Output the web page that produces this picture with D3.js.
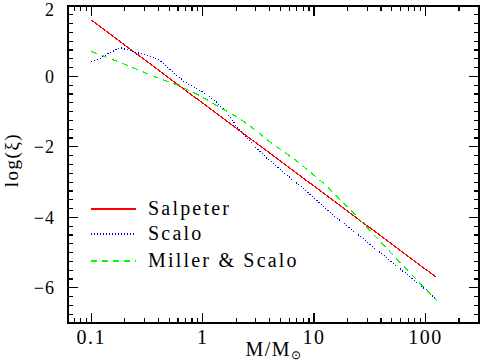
<!DOCTYPE html>
<html>
<head>
<meta charset="utf-8">
<script src="https://cdn.jsdelivr.net/npm/d3@7"></script>
<style>
  body { margin: 0; background: #fff; }
  svg { display: block; }
  text { font-family: "Liberation Serif", serif; fill: #000; }
</style>
</head>
<body>
<svg id="chart" width="482" height="363"></svg>
<script>
// 数据：从图上读出
const salpeterMass = [0.1, 125];
const salpeterLogXi = [1.6, -5.7];

const scaloMass = [0.1, 0.12, 0.148, 0.182, 0.24, 0.316, 0.398, 0.55, 0.676, 0.955, 1.245, 1.64, 1.95, 2.56, 3.76, 7.76, 15.8, 25.7, 51.3, 110, 124];
const scaloLogXi = [0.43, 0.51, 0.68, 0.82, 0.70, 0.60, 0.49, 0.11, -0.13, -0.41, -0.645, -1.02, -1.355, -1.78, -2.32, -3.15, -4.0, -4.53, -5.3, -6.15, -6.33];

const millerMass = [0.1, 0.126, 0.209, 0.339, 0.63, 0.946, 1.43, 2.1, 3.05, 4.02, 6.98, 12.5, 21, 25.8, 59, 126];
const millerLogXi = [0.71, 0.59, 0.32, 0.04, -0.28, -0.55, -0.88, -1.17, -1.55, -1.86, -2.40, -3.06, -3.77, -4.07, -5.28, -6.36];

const seriesNames = ['Salpeter', 'Scalo', 'Miller & Scalo'];
const xTickValues = [0.1, 1, 10, 100];
const yTickValues = [2, 0, -2, -4, -6];

const svg = d3.select('#chart');
const mLeft = 68, mRight = 479, mTop = 6, mBottom = 323;

const x = d3.scaleLog().domain([0.0617, 303]).range([mLeft, mRight]);
const y = d3.scaleLinear().domain([-7, 2]).range([mBottom, mTop]);

// 次刻度
let minorX = [];
[0.01, 0.1, 1, 10, 100].forEach(d => {
    for (let k = 2; k <= 9; k++) {
        let v = d * k;
        if (v > x.domain()[0] && v < x.domain()[1]) minorX.push(v);
    }
});
let minorY = d3.range(-7, 2.001, 0.25).filter(v => Math.abs(v / 2 - Math.round(v / 2)) > 1e-6);

const g = svg.append('g').attr('shape-rendering', 'crispEdges').attr('stroke', '#000').attr('stroke-width', 1.2);

// 刻度线，四边都画
let tick = (x1, y1, x2, y2) => g.append('line').attr('x1', x1).attr('y1', y1).attr('x2', x2).attr('y2', y2);
xTickValues.forEach(v => { tick(x(v), mBottom, x(v), mBottom - 10); tick(x(v), mTop, x(v), mTop + 10); });
minorX.forEach(v => { tick(x(v), mBottom, x(v), mBottom - 5); tick(x(v), mTop, x(v), mTop + 5); });
yTickValues.forEach(v => { tick(mLeft, y(v), mLeft + 10, y(v)); tick(mRight, y(v), mRight - 10, y(v)); });
minorY.forEach(v => { tick(mLeft, y(v), mLeft + 5, y(v)); tick(mRight, y(v), mRight - 5, y(v)); });

g.append('rect').attr('x', mLeft).attr('y', mTop).attr('width', mRight - mLeft).attr('height', mBottom - mTop)
    .attr('fill', 'none');

// 刻度文字
svg.append('g').selectAll('text').data(xTickValues).join('text')
    .attr('x', d => x(d)).attr('y', 344).attr('text-anchor', 'middle')
    .attr('font-size', 20).attr('letter-spacing', 1.5)
    .text(d => d3.format('')(d));

svg.append('g').selectAll('text').data(yTickValues).join('text')
    .attr('x', 55).attr('y', d => Math.max(y(d), 10)).attr('dy', '0.35em').attr('text-anchor', 'end')
    .attr('font-size', 18).attr('letter-spacing', 1)
    .text(d => d < 0 ? '\u2212' + Math.abs(d) : d);

// 轴标题
let xl = svg.append('text').attr('x', 274).attr('y', 356).attr('text-anchor', 'middle')
    .attr('font-size', 20).attr('letter-spacing', 1.5);
xl.append('tspan').text('M/M');
xl.append('tspan').text('\u2299').attr('font-size', 12).attr('dy', 3);

svg.append('text').attr('transform', 'translate(18,160) rotate(-90)').attr('text-anchor', 'middle')
    .attr('font-size', 19).attr('letter-spacing', 1.5)
    .text('log(\u03be)');

// 曲线
const series = [
    {mass: salpeterMass, logxi: salpeterLogXi, color: '#ff0000', dash: null},
    {mass: scaloMass, logxi: scaloLogXi, color: '#0000ff', dash: '1,2'},
    {mass: millerMass, logxi: millerLogXi, color: '#00ff00', dash: '6,5'}
];
const line = d3.line().x(d => x(d[0])).y(d => y(d[1]));
const plot = svg.append('g');
series.forEach(s => {
    plot.append('path')
        .attr('d', line(d3.zip(s.mass, s.logxi)))
        .attr('fill', 'none').attr('stroke', s.color).attr('stroke-width', 1.2)
        .attr('stroke-dasharray', s.dash)
        .attr('shape-rendering', 'crispEdges');
});

// 图例
const legendY = [209, 234, 261];
series.forEach((s, i) => {
    plot.append('line').attr('x1', 91).attr('x2', 136).attr('y1', legendY[i]).attr('y2', legendY[i])
        .attr('stroke', s.color).attr('stroke-width', 1.2).attr('stroke-dasharray', s.dash)
        .attr('shape-rendering', 'crispEdges');
    svg.append('text').attr('x', 148).attr('y', legendY[i]).attr('dy', '0.3em')
        .attr('font-size', 20).attr('letter-spacing', 2.2)
        .text(seriesNames[i]);
});
</script>
</body>
</html>
